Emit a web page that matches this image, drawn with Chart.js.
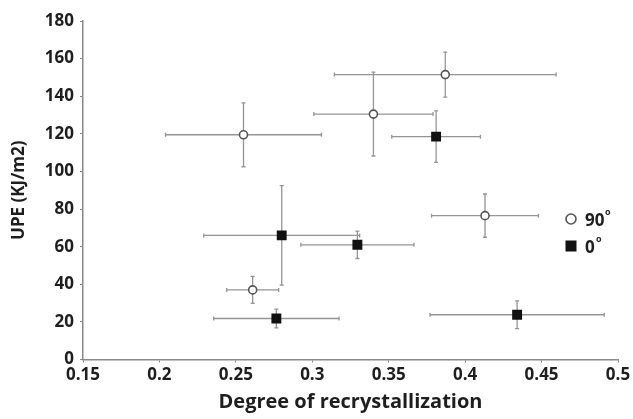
<!DOCTYPE html>
<html>
<head>
<meta charset="utf-8">
<script src="https://cdn.jsdelivr.net/npm/chart.js@4"></script>
<style>
  html, body { margin: 0; padding: 0; background: #fff; }
  #wrap { width: 633px; height: 419px; position: relative; }
</style>
</head>
<body>
<div id="wrap"><canvas id="c" width="633" height="419"></canvas></div>
<script>
// ---- data ----
const seriesLabels = ['90°', '0°'];

// 90° (open circles)
const x90    = [0.255, 0.340, 0.387, 0.413, 0.261];
const y90    = [119.5, 130.5, 151.5, 76.5, 37.0];
const xErr90 = [0.051, 0.039, 0.0725, 0.035, 0.017];
const yErr90 = [17.0, 22.3, 12.0, 11.5, 7.2];

// 0° (filled squares)
const x0    = [0.381, 0.280, 0.3295, 0.2765, 0.434];
const y0    = [118.5, 66.0, 61.0, 21.8, 23.8];
const xErr0 = [0.029, 0.051, 0.037, 0.041, 0.057];
const yErr0 = [13.7, 26.5, 7.3, 5.0, 7.4];

const xTicks = [0.15, 0.2, 0.25, 0.3, 0.35, 0.4, 0.45, 0.5];
const yTicks = [0, 20, 40, 60, 80, 100, 120, 140, 160, 180];

const FONT = "'Open Sans', 'Liberation Sans', sans-serif";
const TXT = '#1e1e1e';

function pts(xs, ys, xe, ye) {
  return xs.map((x, i) => ({ x: x, y: ys[i], xe: xe[i], ye: ye[i] }));
}

const errorBars = {
  id: 'errorBars',
  beforeDatasetsDraw(chart) {
    const { ctx, scales: { x, y } } = chart;
    ctx.save();
    chart.data.datasets.forEach((ds) => {
      ds.data.forEach((p) => {
        const px = x.getPixelForValue(p.x);
        const py = y.getPixelForValue(p.y);
        const xl = x.getPixelForValue(p.x - p.xe);
        const xr = x.getPixelForValue(p.x + p.xe);
        const yt = y.getPixelForValue(p.y + p.ye);
        const yb = y.getPixelForValue(p.y - p.ye);
        ctx.strokeStyle = '#959595';
        ctx.lineWidth = 1.3;
        ctx.beginPath();
        ctx.moveTo(xl, py); ctx.lineTo(xr, py);
        ctx.moveTo(px, yt); ctx.lineTo(px, yb);
        // caps
        const c = 2;
        ctx.moveTo(xl, py - c); ctx.lineTo(xl, py + c);
        ctx.moveTo(xr, py - c); ctx.lineTo(xr, py + c);
        ctx.moveTo(px - c, yt); ctx.lineTo(px + c, yt);
        ctx.moveTo(px - c, yb); ctx.lineTo(px + c, yb);
        ctx.stroke();
      });
    });
    ctx.restore();
  }
};

const customLegend = {
  id: 'customLegend',
  afterDraw(chart) {
    const { ctx } = chart;
    ctx.save();
    // circle
    ctx.beginPath();
    ctx.arc(571, 219, 5, 0, Math.PI * 2);
    ctx.fillStyle = '#fff';
    ctx.fill();
    ctx.lineWidth = 1.6;
    ctx.strokeStyle = '#555';
    ctx.stroke();
    // square
    ctx.fillStyle = '#111';
    ctx.fillRect(565.5, 240.5, 11, 11);
    ctx.fillStyle = TXT;
    ctx.font = 'bold 17px ' + FONT;
    ctx.textBaseline = 'middle';
    ctx.textAlign = 'left';
    ctx.fillText('90', 585, 221);
    ctx.fillText('0', 585, 248);
    ctx.font = 'bold 9px ' + FONT;
    ctx.fillText('o', 605, 212);
    ctx.fillText('o', 596, 239);
    ctx.restore();
  }
};

new Chart(document.getElementById('c'), {
  type: 'scatter',
  data: {
    datasets: [
      {
        label: seriesLabels[0],
        data: pts(x90, y90, xErr90, yErr90),
        pointStyle: 'circle',
        pointRadius: 4,
        pointHoverRadius: 4,
        pointBorderWidth: 1.6,
        pointBorderColor: '#555',
        pointBackgroundColor: '#fff'
      },
      {
        label: seriesLabels[1],
        data: pts(x0, y0, xErr0, yErr0),
        pointStyle: 'rect',
        pointRadius: 7,
        pointHoverRadius: 7,
        pointBorderWidth: 0,
        pointBorderColor: '#111',
        pointBackgroundColor: '#111'
      }
    ]
  },
  options: {
    responsive: false,
    animation: false,
    events: [],
    layout: { padding: { left: 0, right: 15, top: 21, bottom: 0 } },
    plugins: {
      legend: { display: false },
      tooltip: { enabled: false }
    },
    scales: {
      x: {
        type: 'linear',
        min: 0.15, max: 0.5,
        afterBuildTicks(s) { s.ticks = xTicks.map(v => ({ value: v })); },
        afterFit(s) { s.height = 59.5; s.paddingLeft = 0; s.paddingRight = 0; },
        grid: { display: true, drawOnChartArea: false, drawTicks: true, tickLength: 3, color: '#888', lineWidth: 1 },
        border: { display: true, color: '#888', width: 1.5 },
        ticks: {
          padding: 2,
          color: TXT,
          font: { family: FONT, size: 17, weight: 'bold' },
          maxRotation: 0,
          autoSkip: false,
          callback: (v) => String(v)
        },
        title: {
          display: true,
          text: 'Degree of recrystallization',
          color: TXT,
          font: { family: FONT, size: 20, weight: 'bold' },
          padding: { top: 0, bottom: 5 }
        }
      },
      y: {
        type: 'linear',
        min: 0, max: 180,
        afterBuildTicks(s) { s.ticks = yTicks.map(v => ({ value: v })); },
        afterFit(s) { s.width = 83; s.paddingTop = 0; s.paddingBottom = 0; },
        grid: { display: true, drawOnChartArea: false, drawTicks: true, tickLength: 3, color: '#888', lineWidth: 1 },
        border: { display: true, color: '#888', width: 1.5 },
        ticks: {
          padding: 6,
          color: TXT,
          font: { family: FONT, size: 17, weight: 'bold' },
          autoSkip: false
        },
        title: {
          display: true,
          text: 'UPE (KJ/m2)',
          color: TXT,
          font: { family: FONT, size: 17, weight: 'bold' },
          padding: { top: 9, bottom: 0 }
        }
      }
    }
  },
  plugins: [errorBars, customLegend]
});
</script>
</body>
</html>
